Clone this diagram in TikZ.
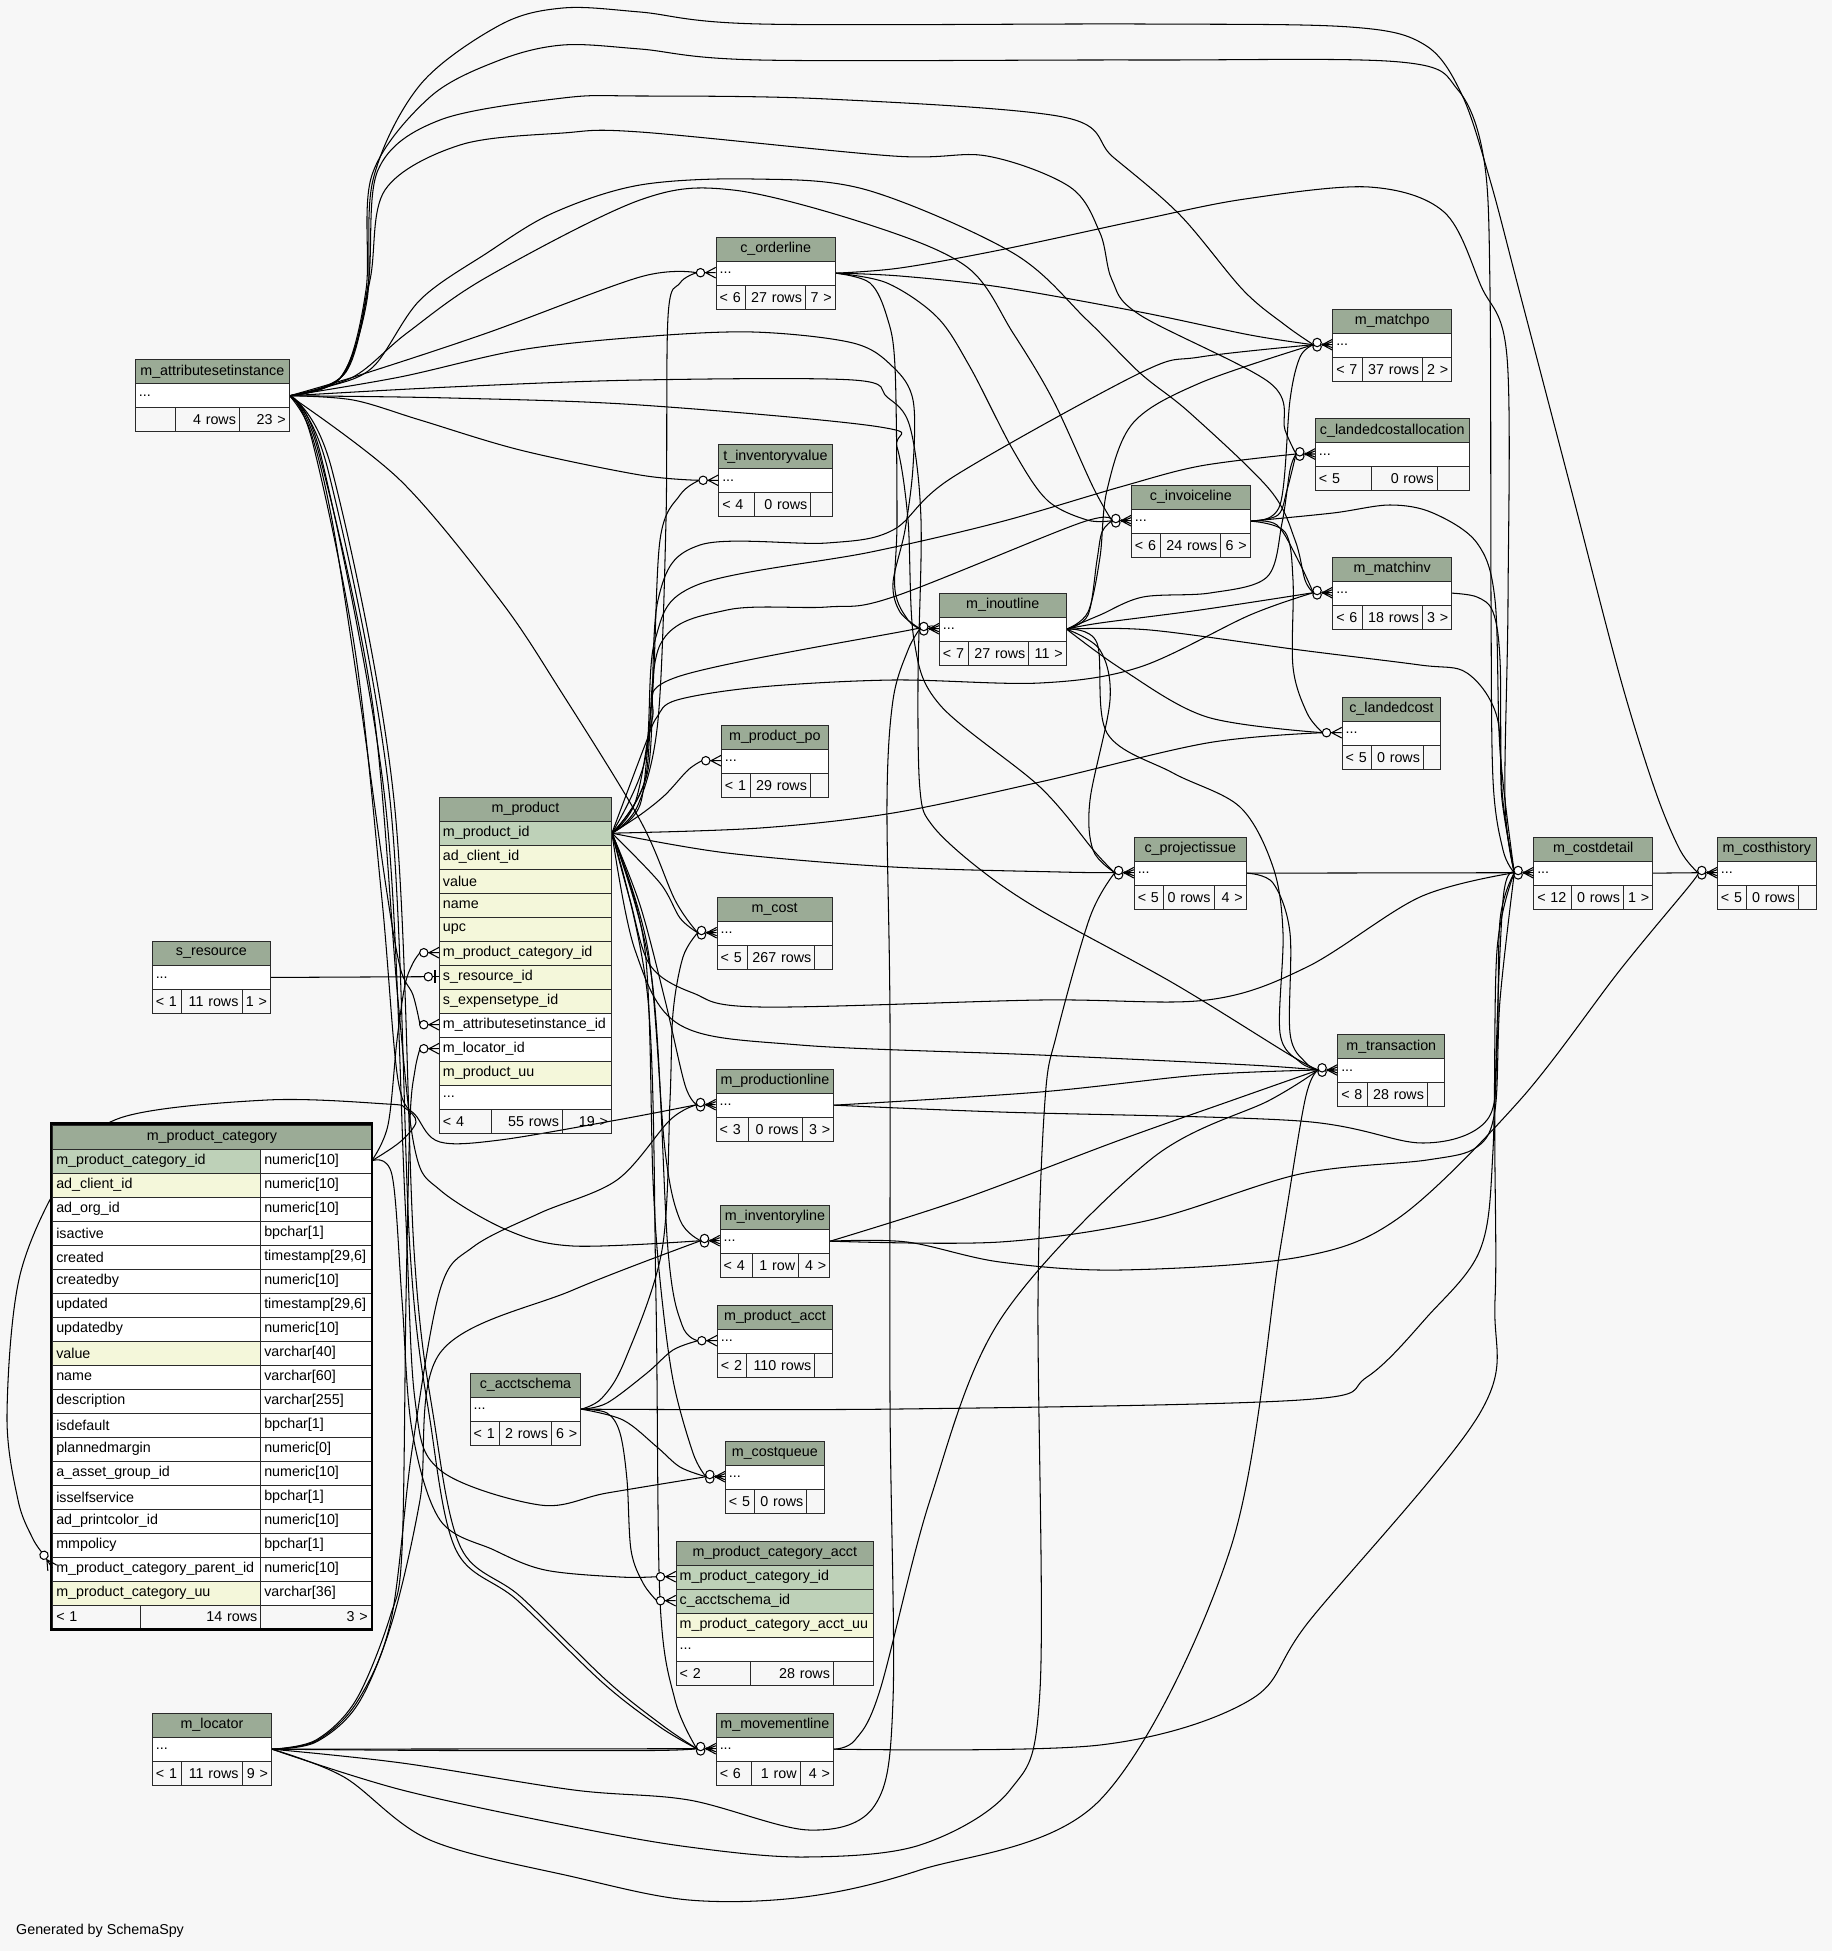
\documentclass[tikz,border=0pt]{standalone}
\usepackage{fontspec}
\setmainfont{Liberation Sans}
\usetikzlibrary{calc}
\definecolor{bgc}{HTML}{F7F7F7}
\definecolor{hdc}{HTML}{9BAB96}
\definecolor{pkc}{HTML}{BED1B8}
\definecolor{ixc}{HTML}{F4F7DA}
\definecolor{bdc}{HTML}{2A2A2A}
\pgfdeclarelayer{bgl}
\pgfdeclarelayer{edl}
\pgfsetlayers{bgl,edl,main}
\tikzset{
  cellbase/.style={draw=bdc, line width=0.9pt, inner xsep=3.5pt, inner ysep=0pt, minimum height=24pt, font=\fontsize{14.3}{16}\selectfont, text=black},
  thd/.style={fill=hdc, align=center},
  twl/.style={fill=white, align=left},
  tpk/.style={fill=pkc, align=left},
  tix/.style={fill=ixc, align=left},
  tfl/.style={align=left},
  tfr/.style={align=right},
  conn/.style={draw=black, line width=1.05pt, smooth, tension=0.55},
  mk/.style={draw=black, line width=1.05pt},
}
\newcommand\tcell[6]{%
  \pgfmathsetmacro\cw{(#4)-(#2)}%
  \pgfmathsetmacro\tw{(#4)-(#2)-7}%
  \node[cellbase,#5,minimum width=\cw pt,text width=\tw pt,anchor=north west] (#1) at (#2,#3) {\mbox{#6}};}
\newcommand\stabl[5]{%
  \tcell{#1h}{#2}{#3}{#4}{thd}{#5}%
  \pgfmathsetmacro\yb{#3+24}%
  \tcell{#1}{#2}{\yb}{#4}{twl}{...}}
\newcommand\sfoo[9]{%
  \pgfmathsetmacro\yf{#3+48}%
  \tcell{#1f1}{#2}{\yf}{#5}{tfl}{#7}%
  \tcell{#1f2}{#5}{\yf}{#6}{tfr}{#8}%
  \tcell{#1f3}{#6}{\yf}{#4}{tfr}{#9}}
\newcommand\mcrow[4]{%
  \pgfmathsetmacro\ry{1148.5+24*(#1-1)}%
  \tcell{mpc#1n}{52.3}{\ry}{260.3}{#2}{#3}%
  \tcell{mpc#1t}{260.3}{\ry}{370.7}{twl}{#4}}
\newcommand\crowo[3][0]{%
  \begin{scope}[shift={(#2,#3)},rotate=#1]
    \draw[mk] (-11,0) -- (0,0) (0,5.3) -- (-10,0) -- (0,-5.3);
    \draw[mk,fill=white] (-15.2,0) circle (4.2pt);
  \end{scope}}
\newcommand\crowm[2]{%
  \begin{scope}[shift={(#1,#2)}]
    \draw[mk] (-11,0) -- (0,0) (0,5.3) -- (-10,0) -- (0,-5.3) (0,3) -- (-10,-1) (0,-3) -- (-10,1);
    \draw[mk,fill=white] (-15.2,2.2) circle (4.2pt);
    \draw[mk,fill=white] (-15.2,-2.2) circle (4.2pt);
  \end{scope}}
\newcommand\teeo[2]{%
  \begin{scope}[shift={(#1,#2)}]
    \draw[mk] (-7,0) -- (0,0);
    \draw[mk,line width=2.2pt] (-4,-6.5) -- (-4,6.5);
    \draw[mk,fill=white] (-10.7,0) circle (4.2pt);
  \end{scope}}
\begin{document}
\begin{tikzpicture}[x=1pt,y=-1pt]
\useasboundingbox (0,0) rectangle (1832,1951);
\begin{pgfonlayer}{bgl}
\fill[bgc] (0,0) rectangle (1832,1951);
\end{pgfonlayer}

% ---------------- simple tables ----------------
\stabl{asi}{135}{359.3}{288.7}{m\_attributesetinstance}
\sfoo{asi}{135}{359.3}{288.7}{174.7}{239}{}{4 rows}{23 >}
\stabl{col}{715.7}{236.7}{834.7}{c\_orderline}
\sfoo{col}{715.7}{236.7}{834.7}{745}{805}{< 6}{27 rows}{7 >}
\stabl{tiv}{718.3}{444.3}{831.7}{t\_inventoryvalue}
\sfoo{tiv}{718.3}{444.3}{831.7}{754.3}{810.3}{< 4}{0 rows}{}
\stabl{mppo}{721}{724.7}{827.7}{m\_product\_po}
\sfoo{mppo}{721}{724.7}{827.7}{750.3}{810}{< 1}{29 rows}{}
\stabl{mc}{716.7}{896.7}{831.7}{m\_cost}
\sfoo{mc}{716.7}{896.7}{831.7}{746.7}{814.3}{< 5}{267 rows}{}
\stabl{mpl}{715.7}{1068.7}{833.3}{m\_productionline}
\sfoo{mpl}{715.7}{1068.7}{833.3}{747.7}{801.7}{< 3}{0 rows}{3 >}
\stabl{mil}{719.7}{1204.7}{829.3}{m\_inventoryline}
\sfoo{mil}{719.7}{1204.7}{829.3}{751.7}{798.3}{< 4}{1 row}{4 >}
\stabl{mpa}{717}{1304.7}{832}{m\_product\_acct}
\sfoo{mpa}{717}{1304.7}{832}{746.3}{814.3}{< 2}{110 rows}{}
\stabl{cas}{469.7}{1372.7}{580.3}{c\_acctschema}
\sfoo{cas}{469.7}{1372.7}{580.3}{499}{551}{< 1}{2 rows}{6 >}
\stabl{mcq}{725}{1440.7}{823.7}{m\_costqueue}
\sfoo{mcq}{725}{1440.7}{823.7}{754.3}{806.3}{< 5}{0 rows}{}
\stabl{ml}{152}{1712.7}{271}{m\_locator}
\sfoo{ml}{152}{1712.7}{271}{181.4}{241.7}{< 1}{11 rows}{9 >}
\stabl{mml}{715.8}{1712.7}{833}{m\_movementline}
\sfoo{mml}{715.8}{1712.7}{833}{751}{799.7}{< 6}{1 row}{4 >}
\stabl{sr}{151.8}{941}{270}{s\_resource}
\sfoo{sr}{151.8}{941}{270}{180.5}{241.5}{< 1}{11 rows}{1 >}
\stabl{iol}{939}{592.7}{1065.7}{m\_inoutline}
\sfoo{iol}{939}{592.7}{1065.7}{968.3}{1028.3}{< 7}{27 rows}{11 >}
\stabl{cil}{1131}{484.7}{1249.7}{c\_invoiceline}
\sfoo{cil}{1131}{484.7}{1249.7}{1160.3}{1220.3}{< 6}{24 rows}{6 >}
\stabl{mpo}{1332.3}{308.7}{1451.3}{m\_matchpo}
\sfoo{mpo}{1332.3}{308.7}{1451.3}{1362}{1422}{< 7}{37 rows}{2 >}
\stabl{lca}{1315}{418}{1468.7}{c\_landedcostallocation}
\sfoo{lca}{1315}{418}{1468.7}{1371.3}{1436.7}{< 5}{0 rows}{}
\stabl{mmi}{1332.3}{556.7}{1451.3}{m\_matchinv}
\sfoo{mmi}{1332.3}{556.7}{1451.3}{1362}{1422}{< 6}{18 rows}{3 >}
\stabl{lc}{1341.7}{696.7}{1440.3}{c\_landedcost}
\sfoo{lc}{1341.7}{696.7}{1440.3}{1371.3}{1423}{< 5}{0 rows}{}
\stabl{cpi}{1133.8}{836.7}{1245.8}{c\_projectissue}
\sfoo{cpi}{1133.8}{836.7}{1245.8}{1162.5}{1213.5}{< 5}{0 rows}{4 >}
\stabl{mcd}{1533.3}{836.7}{1652.3}{m\_costdetail}
\sfoo{mcd}{1533.3}{836.7}{1652.3}{1571}{1623}{< 12}{0 rows}{1 >}
\stabl{mch}{1717}{836.7}{1815.7}{m\_costhistory}
\sfoo{mch}{1717}{836.7}{1815.7}{1746}{1798}{< 5}{0 rows}{}
\stabl{mt}{1337.3}{1034}{1444.3}{m\_transaction}
\sfoo{mt}{1337.3}{1034}{1444.3}{1367.3}{1427}{< 8}{28 rows}{}

% ---------------- m_product ----------------
\tcell{mph}{439}{796.7}{611}{thd}{m\_product}
\tcell{mp1}{439}{820.7}{611}{tpk}{m\_product\_id}
\tcell{mp2}{439}{844.7}{611}{tix}{ad\_client\_id}
\tcell{mp3}{439}{868.7}{611}{tix}{value}
\tcell{mp4}{439}{892.7}{611}{tix}{name}
\tcell{mp5}{439}{916.7}{611}{tix}{upc}
\tcell{mp6}{439}{940.7}{611}{tix}{m\_product\_category\_id}
\tcell{mp7}{439}{964.7}{611}{tix}{s\_resource\_id}
\tcell{mp8}{439}{988.7}{611}{tix}{s\_expensetype\_id}
\tcell{mp9}{439}{1012.7}{611}{twl}{m\_attributesetinstance\_id}
\tcell{mp10}{439}{1036.7}{611}{twl}{m\_locator\_id}
\tcell{mp11}{439}{1060.7}{611}{tix}{m\_product\_uu}
\tcell{mp12}{439}{1084.7}{611}{twl}{...}
\tcell{mpf1}{439}{1108.7}{491}{tfl}{< 4}
\tcell{mpf2}{491}{1108.7}{562}{tfr}{55 rows}
\tcell{mpf3}{562}{1108.7}{611}{tfr}{19 >}

% ---------------- m_product_category_acct ----------------
\tcell{mpcah}{675.7}{1540.7}{873}{thd}{m\_product\_category\_acct}
\tcell{mpca1}{675.7}{1564.7}{873}{tpk}{m\_product\_category\_id}
\tcell{mpca2}{675.7}{1588.7}{873}{tpk}{c\_acctschema\_id}
\tcell{mpca3}{675.7}{1612.7}{873}{tix}{m\_product\_category\_acct\_uu}
\tcell{mpca4}{675.7}{1636.7}{873}{twl}{...}
\tcell{mpcaf1}{675.7}{1660.7}{750.3}{tfl}{< 2}
\tcell{mpcaf2}{750.3}{1660.7}{833}{tfr}{28 rows}
\tcell{mpcaf3}{833}{1660.7}{873}{tfr}{}

% ---------------- m_product_category ----------------
\tcell{mpch}{52.3}{1124.5}{370.7}{thd}{m\_product\_category}
\mcrow{1}{tpk}{m\_product\_category\_id}{numeric[10]}
\mcrow{2}{tix}{ad\_client\_id}{numeric[10]}
\mcrow{3}{twl}{ad\_org\_id}{numeric[10]}
\mcrow{4}{twl}{isactive}{bpchar[1]}
\mcrow{5}{twl}{created}{timestamp[29,6]}
\mcrow{6}{twl}{createdby}{numeric[10]}
\mcrow{7}{twl}{updated}{timestamp[29,6]}
\mcrow{8}{twl}{updatedby}{numeric[10]}
\mcrow{9}{tix}{value}{varchar[40]}
\mcrow{10}{twl}{name}{varchar[60]}
\mcrow{11}{twl}{description}{varchar[255]}
\mcrow{12}{twl}{isdefault}{bpchar[1]}
\mcrow{13}{twl}{plannedmargin}{numeric[0]}
\mcrow{14}{twl}{a\_asset\_group\_id}{numeric[10]}
\mcrow{15}{twl}{isselfservice}{bpchar[1]}
\mcrow{16}{twl}{ad\_printcolor\_id}{numeric[10]}
\mcrow{17}{twl}{mmpolicy}{bpchar[1]}
\mcrow{18}{twl}{m\_product\_category\_parent\_id}{numeric[10]}
\mcrow{19}{tix}{m\_product\_category\_uu}{varchar[36]}
\tcell{mpcf1}{52.3}{1604.5}{140.3}{tfl}{< 1}
\tcell{mpcf2}{140.3}{1604.5}{260.3}{tfr}{14 rows}
\tcell{mpcf3}{260.3}{1604.5}{370.7}{tfr}{3 >}
\draw[line width=2.5pt,draw=black] (51.2,1123.4) rectangle (371.8,1629.6);

\node[font=\fontsize{14.3}{16}\selectfont,anchor=west,inner sep=0pt] (gen) at (16,1931) {Generated by SchemaSpy};

% ---------------- ports ----------------
\coordinate (colI) at (696.7,272.7);
\coordinate (tivI) at (699.3,480.3);
\coordinate (mppoI) at (702,760.7);
\coordinate (mcI) at (697.7,932.7);
\coordinate (mplI) at (696.7,1104.7);
\coordinate (milI) at (700.7,1240.7);
\coordinate (mpaI) at (698,1340.7);
\coordinate (mcqI) at (706,1476.7);
\coordinate (mmlI) at (696.8,1748.7);
\coordinate (iolI) at (920,628.7);
\coordinate (cilI) at (1112,520.7);
\coordinate (mpoI) at (1313.3,344.7);
\coordinate (lcaI) at (1296,454);
\coordinate (mmiI) at (1313.3,592.7);
\coordinate (lcI) at (1322.7,732.7);
\coordinate (cpiI) at (1114.8,872.7);
\coordinate (mcdI) at (1514.3,872.7);
\coordinate (mchI) at (1698,872.7);
\coordinate (mtI) at (1318.3,1070);
\coordinate (mpcatI) at (420,952.7);
\coordinate (mpsresI) at (424,976.7);
\coordinate (mpasiI) at (420,1024.7);
\coordinate (mplocI) at (420,1048.7);
\coordinate (mpca1I) at (656.7,1576.7);
\coordinate (mpca2I) at (656.7,1600.7);
\coordinate (mpcpI) at (41.6,1552);

% ---------------- connectors ----------------
\begin{pgfonlayer}{edl}
% m_attributesetinstance
\draw[conn] plot coordinates {(asi.east) (340,378) (367,300) (373,180) (420,85) (500,25) (563,8) (640,12) (760,24) (1140,24) (1350,27) (1425,45) (1462,95) (1490,180) (1519,290) (1570,485) (1620,677) (1655,790) (1680,850) (mchI)};
\draw[conn] plot coordinates {(asi.east) (342,376) (366,290) (372,175) (430,97) (500,60) (563,45) (640,49) (760,60) (1140,60) (1400,62) (1458,90) (1484,160) (1490,290) (1491,600) (1493,780) (1503,850) (mcdI)};
\draw[conn] plot coordinates {(asi.east) (344,374) (368,285) (378,170) (440,120) (563,98) (640,96) (827,99) (1063,117) (1113,157) (1180,215) (1243,290) (1285,325) (mpoI)};
\draw[conn] plot coordinates {(asi.east) (346,372) (370,280) (385,190) (460,145) (563,133) (640,132) (893,156) (987,156) (1070,187) (1100,233) (1112,280) (1140,315) (1270,383) (1285,430) (lcaI)};
\draw[conn] plot coordinates {(asi.east) (327,387) (373,367) (420,300) (487,253) (553,213) (640,185) (753,179) (867,190) (1013,253) (1087,320) (1140,373) (1190,413) (1270,490) (1295,540) (1305,580) (mmiI)};
\draw[conn] plot coordinates {(asi.east) (353,377) (407,333) (487,277) (640,200) (733,190) (870,225) (967,267) (1013,333) (1053,400) (1093,487) (cilI)};
\draw[conn] plot coordinates {(asi.east) (360,375) (487,333) (640,277) (colI)};
\draw[conn] plot coordinates {(asi.east) (400,377) (520,350) (640,337) (753,332) (853,343) (893,367) (913,400) (913,467) (905,530) (893,583) (900,612) (iolI)};
\draw[conn] plot coordinates {(asi.east) (450,387) (640,380) (853,380) (887,397) (910,427) (921,520) (918,680) (920,790) (932,825) (977,867) (1040,910) (1173,983) (1290,1055) (mtI)};
\draw[conn] plot coordinates {(asi.east) (450,398) (640,405) (880,427) (897,447) (908,520) (914,640) (940,705) (1040,787) (1095,852) (cpiI)};
\draw[conn] plot coordinates {(asi.east) (353,400) (420,420) (520,450) (640,475) (tivI)};
\draw[conn] plot coordinates {(asi.east) (310,430) (332,520) (360,700) (385,880) (400,967) (413,995) (mpasiI)};
\draw[conn] plot coordinates {(asi.east) (400,480) (500,600) (560,690) (640,820) (675,900) (mcI)};
\draw[conn] plot coordinates {(asi.east) (312,440) (355,650) (382,900) (398,1080) (417,1117) (440,1142) (500,1140) (617,1120) (mplI)};
\draw[conn] plot coordinates {(asi.east) (318,450) (372,700) (398,1000) (415,1150) (440,1190) (507,1230) (573,1246) (milI)};
\draw[conn] plot coordinates {(asi.east) (322,460) (385,800) (405,1200) (415,1400) (440,1470) (540,1505) (607,1493) (mcqI)};
\draw[conn] plot coordinates {(asi.east) (328,470) (390,800) (410,1250) (430,1420) (456,1550) (517,1600) (603,1683) (660,1727) (mmlI)};
\draw[conn] plot coordinates {(asi.east) (332,470) (394,800) (414,1250) (434,1420) (461,1548) (521,1597) (606,1680) (662,1725) (mmlI)};
% m_product
\draw[conn] plot coordinates {(mp1.east) (638,805) (658,720) (666,520) (668,317) (680,283) (colI)};
\draw[conn] plot coordinates {(mp1.east) (636,800) (652,700) (660,540) (680,495) (tivI)};
\draw[conn] plot coordinates {(mp1.east) (640,815) (665,795) (688,770) (mppoI)};
\draw[conn] plot coordinates {(mp1.east) (660,883) (680,918) (mcI)};
\draw[conn] plot coordinates {(mp1.east) (640,905) (665,1000) (685,1085) (mplI)};
\draw[conn] plot coordinates {(mp1.east) (648,950) (665,1150) (680,1220) (milI)};
\draw[conn] plot coordinates {(mp1.east) (652,980) (668,1250) (682,1325) (mpaI)};
\draw[conn] plot coordinates {(mp1.east) (645,950) (653,1180) (660,1280) (673,1380) (693,1453) (mcqI)};
\draw[conn] plot coordinates {(mp1.east) (648,1000) (656,1300) (660,1600) (675,1700) (mmlI)};
\draw[conn] plot coordinates {(mp1.east) (640,805) (652,720) (677,677) (910,630) (iolI)};
\draw[conn] plot coordinates {(mp1.east) (645,780) (660,645) (727,610) (827,607) (893,597) (1080,523) (cilI)};
\draw[conn] plot coordinates {(mp1.east) (648,770) (658,600) (700,545) (827,543) (893,530) (953,477) (1140,373) (1200,357) (mpoI)};
\draw[conn] plot coordinates {(mp1.east) (645,760) (655,640) (697,585) (871,552) (1000,522) (1120,487) (1200,466) (lcaI)};
\draw[conn] plot coordinates {(mp1.east) (645,745) (657,717) (677,700) (760,687) (893,680) (1040,683) (1140,667) (1250,615) (mmiI)};
\draw[conn] plot coordinates {(mp1.east) (760,828) (893,813) (1040,782) (1207,743) (lcI)};
\draw[conn] plot coordinates {(mp1.east) (727,853) (893,867) (1060,872) (cpiI)};
\draw[conn] plot coordinates {(mp1.east) (630,900) (650,965) (693,993) (760,1007) (1040,1000) (1207,1000) (1307,967) (1420,897) (mcdI)};
\draw[conn] plot coordinates {(mp1.east) (635,950) (680,1025) (800,1045) (1040,1055) (1250,1065) (mtI)};
% c_orderline
\draw[conn] plot coordinates {(col.east) (900,276) (1000,287) (1140,312) (1250,335) (mpoI)};
\draw[conn] plot coordinates {(col.east) (900,268) (1000,250) (1140,220) (1245,199) (1369,187) (1444,212) (1481,286) (1507,357) (1508,600) (1505,800) (mcdI)};
\draw[conn] plot coordinates {(col.east) (887,283) (937,317) (970,367) (1013,450) (1047,500) (1087,520) (cilI)};
\draw[conn] plot coordinates {(col.east) (870,283) (887,317) (895,367) (897,520) (895,590) (908,620) (iolI)};
% c_invoiceline
\draw[conn] plot coordinates {(cil.east) (1278,515) (1287,490) (lcaI)};
\draw[conn] plot coordinates {(cil.east) (1277,525) (1298,560) (mmiI)};
\draw[conn] plot coordinates {(cil.east) (1285,532) (1293,580) (1293,667) (1307,713) (lcI)};
\draw[conn] plot coordinates {(cil.east) (1280,505) (1290,400) (1300,357) (mpoI)};
\draw[conn] plot coordinates {(cil.east) (1333,513) (1390,505) (1433,513) (1477,543) (1495,600) (1500,750) (mcdI)};
% m_inoutline
\draw[conn] plot coordinates {(iol.east) (1100,623) (1200,610) (mmiI)};
\draw[conn] plot coordinates {(iol.east) (1088,612) (1100,557) (1107,490) (1133,423) (1200,383) (mpoI)};
\draw[conn] plot coordinates {(iol.east) (1088,615) (1097,560) (1102,532) (cilI)};
\draw[conn] plot coordinates {(iol.east) (1100,615) (1143,597) (1210,593) (1267,577) (1282,523) (1290,470) (lcaI)};
\draw[conn] plot coordinates {(iol.east) (1123,670) (1207,717) (lcI)};
\draw[conn] plot coordinates {(iol.east) (1100,650) (1110,700) (1090,800) (1093,850) (cpiI)};
\draw[conn] plot coordinates {(iol.east) (1150,630) (1300,650) (1420,665) (1467,673) (1497,717) (1502,800) (mcdI)};
\draw[conn] plot coordinates {(iol.east) (1097,643) (1107,733) (1173,773) (1240,807) (1273,867) (1283,933) (1280,1033) (1300,1062) (mtI)};
% others to m_costdetail / m_transaction
\draw[conn] plot coordinates {(mmi.east) (1477,597) (1493,612) (1500,660) (1502,790) (mcdI)};
\draw[conn] (cpi.east) -- (mcdI);
\draw[conn] plot coordinates {(cpi.east) (1273,883) (1290,933) (1290,1033) (1305,1062) (mtI)};
\draw[conn] (mcd.east) -- (mchI);
\draw[conn] plot coordinates {(mpl.east) (1040,1092) (1200,1075) (mtI)};
\draw[conn] plot coordinates {(mpl.east) (1000,1112) (1300,1121) (1423,1143) (1487,1120) (1497,1050) (1500,920) (mcdI)};
\draw[conn] plot coordinates {(mil.east) (960,1200) (1120,1140) (1233,1100) (mtI)};
\draw[conn] plot coordinates {(mil.east) (1000,1242) (1150,1220) (1300,1174) (1427,1160) (1477,1147) (1495,1110) (1500,1000) (mcdI)};
\draw[conn] plot coordinates {(mil.east) (907,1242) (1000,1262) (1120,1270) (1300,1257) (1400,1217) (1520,1100) (1620,970) (1690,885) (mchI)};
\draw[conn] plot coordinates {(mml.east) (855,1740) (880,1690) (930,1500) (1000,1320) (1150,1160) (1270,1100) (mtI)};
\draw[conn] plot coordinates {(mml.east) (1100,1745) (1250,1700) (1310,1620) (1480,1413) (1495,1300) (1495,1100) (1503,900) (mcdI)};
% m_locator
\draw[conn] plot coordinates {(ml.east) (316,1740) (356,1700) (390,1617) (402,1550) (406,1300) (410,1120) (415,1070) (mplocI)};
\draw[conn] plot coordinates {(ml.east) (316,1741) (357,1702) (391,1620) (412,1450) (440,1290) (473,1247) (540,1213) (617,1180) (670,1120) (mplI)};
\draw[conn] plot coordinates {(ml.east) (316,1742) (358,1704) (392,1622) (420,1500) (440,1353) (573,1290) (milI)};
\draw[conn] (ml.east) -- (mmlI);
\draw[conn] plot coordinates {(ml.east) (450,1750.5) (650,1750.5) (mmlI)};
\draw[conn] plot coordinates {(ml.east) (402,1763) (574,1790) (689,1800) (809,1830) (875,1805) (893,1700) (890,1400) (890,1020) (887,800) (893,700) (908,650) (iolI)};
\draw[conn] plot coordinates {(ml.east) (402,1790) (574,1827) (689,1847) (804,1857) (920,1845) (1010,1790) (1040,1690) (1038,1300) (1045,1100) (1057,1033) (1090,917) (cpiI)};
\draw[conn] plot coordinates {(ml.east) (344,1777) (430,1840) (574,1877) (689,1900) (804,1897) (920,1870) (1100,1800) (1230,1550) (1280,1250) (1305,1100) (mtI)};
% c_acctschema
\draw[conn] plot coordinates {(cas.east) (607,1403) (647,1373) (673,1350) (mpaI)};
\draw[conn] plot coordinates {(cas.east) (602,1398) (625,1360) (662,1250) (670,1100) (673,1013) (683,957) (mcI)};
\draw[conn] plot coordinates {(cas.east) (623,1420) (657,1447) (680,1467) (mcqI)};
\draw[conn] plot coordinates {(cas.east) (607,1413) (620,1433) (627,1480) (631,1550) (643,1583) (mpca2I)};
\draw[conn] plot coordinates {(cas.east) (900,1409) (1300,1400) (1367,1377) (1427,1317) (1480,1250) (1493,1150) (1497,950) (mcdI)};
% s_resource
\draw[conn] (sr.east) -- (mpsresI);
% m_product_category
\draw[conn] plot coordinates {(mpc1t.east) (400,1142) (416,1122) (405,1108) (387,1104) (267,1100) (120,1118) (67,1170) (20,1275) (7,1416) (18,1500) (32,1537) (mpcpI)};
\draw[conn] plot coordinates {(mpc1t.east) (388,1125) (397,1040) (405,985) (413,963) (mpcatI)};
\draw[conn] plot coordinates {(mpc1t.east) (392,1175) (402,1300) (412,1430) (440,1520) (494,1550) (545,1570) (620,1577) (mpca1I)};
\end{pgfonlayer}

% ---------------- end markers ----------------
\crowo{715.7}{272.7}
\crowo{718.3}{480.3}
\crowo{721}{760.7}
\crowm{716.7}{932.7}
\crowm{715.7}{1104.7}
\crowm{719.7}{1240.7}
\crowo{717}{1340.7}
\crowm{725}{1476.7}
\crowm{715.8}{1748.7}
\crowm{939}{628.7}
\crowm{1131}{520.7}
\crowm{1332.3}{344.7}
\crowm{1315}{454}
\crowm{1332.3}{592.7}
\crowo{1341.7}{732.7}
\crowm{1133.8}{872.7}
\crowm{1533.3}{872.7}
\crowm{1717}{872.7}
\crowm{1337.3}{1070}
\crowo{439}{952.7}
\teeo{439}{976.7}
\crowo{439}{1024.7}
\crowo{439}{1048.7}
\crowo{675.7}{1576.7}
\crowo{675.7}{1600.7}
\crowo[-57]{52.3}{1568}
\end{tikzpicture}
\end{document}
